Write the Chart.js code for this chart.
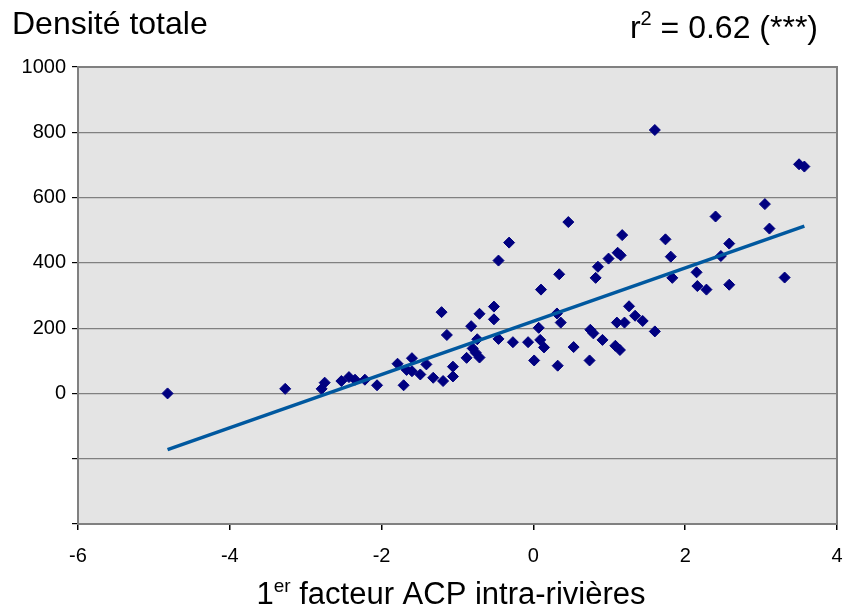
<!DOCTYPE html>
<html>
<head>
<meta charset="utf-8">
<script src="https://cdn.jsdelivr.net/npm/chart.js@4/dist/chart.umd.min.js"></script>
<style>
  html, body { margin: 0; padding: 0; background: #ffffff; }
  #wrap { width: 844px; height: 610px; }
</style>
</head>
<body>
<div id="wrap"><canvas id="c" width="844" height="610"></canvas></div>
<script>
// First factor of the within-river PCA (x) and total density (y), one value per site
const acpFactor1 = [
  -4.82, -3.27, -2.79, -2.75, -2.53, -2.43, -2.35, -2.22, -2.06, -1.79,
  -1.71, -1.60, -1.67, -1.60, -1.49, -1.41, -1.32, -1.19, -1.06, -1.06,
  -1.21, -1.14, -0.88, -0.80, -0.76, -0.71, -0.74, -0.82, -0.71, -0.52,
  -0.52, -0.46, -0.27, -0.07, 0.07, 0.09, 0.14, 0.01, 0.32, 0.31,
  0.36, 0.53, 0.74, 0.75, 0.79, 0.91, 1.08, 1.14, 1.10, 1.20,
  1.26, 1.34, 1.44, 1.60, 0.10, -0.46, -0.32, 0.34, 0.46, 0.82,
  0.85, 0.99, 1.11, 1.15, 1.17, 1.74, 1.81, 1.83, 2.15, 2.16,
  2.28, 2.40, 2.47, 2.58, 2.58, 3.05, 3.11, 3.31, 3.50, 3.57,
  1.60
];
const densiteTotale = [
  0, 14, 14, 33, 38, 50, 42, 42, 25, 91,
  25, 108, 72, 68, 58, 89, 48, 38, 82, 52,
  249, 179, 109, 138, 125, 110, 166, 206, 244, 266,
  227, 167, 157, 157, 201, 164, 141, 101, 85, 245,
  217, 142, 101, 195, 184, 164, 146, 133, 217, 217,
  267, 238, 222, 190, 318, 407, 462, 365, 525, 354,
  388, 413, 431, 423, 485, 472, 419, 354, 371, 329,
  318, 542, 421, 459, 333, 580, 505, 355, 702, 695,
  807
];

// Axis ticks
const xTickValues = [-6, -4, -2, 0, 2, 4];
const yTickLabels = [0, 200, 400, 600, 800, 1000];

// Linear trend (intercept, slope) and its fit statistic
const trendIntercept = 221;
const trendSlope = 81.6;
const r2Text = ['r', '2', ' = 0.62 (***)'];

const titleText = 'Densité totale';
const xTitleParts = ['1', 'er', ' facteur ACP intra-rivières'];

const FONT = '"Liberation Sans", Arial, sans-serif';

const points = acpFactor1.map((x, i) => ({ x: x, y: densiteTotale[i] }));
const xMin = Math.min(...acpFactor1);
const xMax = Math.max(...acpFactor1);
const trendPoints = [xMin, xMax].map(x => ({ x: x, y: trendIntercept + trendSlope * x }));

const plotBackground = {
  id: 'plotBackground',
  beforeDraw(chart) {
    const { ctx, chartArea: a } = chart;
    ctx.save();
    ctx.fillStyle = '#e4e4e4';
    ctx.fillRect(a.left, a.top, a.right - a.left, a.bottom - a.top);
    ctx.restore();
  },
  beforeDatasetsDraw(chart) {
    const { ctx, chartArea: a } = chart;
    ctx.save();
    ctx.strokeStyle = '#808080';
    ctx.lineWidth = 2;
    ctx.strokeRect(a.left, a.top, a.right - a.left, a.bottom - a.top);
    ctx.restore();
  }
};

// Draws a run of [text, font, baselineY] pieces side by side starting at x
function drawRun(ctx, pieces, startX) {
  let x = startX;
  for (const [txt, font, y] of pieces) {
    ctx.font = font;
    ctx.fillText(txt, x, y);
    x += ctx.measureText(txt).width;
  }
}
function runWidth(ctx, pieces) {
  let w = 0;
  for (const [txt, font] of pieces) { ctx.font = font; w += ctx.measureText(txt).width; }
  return w;
}

const textLayer = {
  id: 'textLayer',
  afterDraw(chart) {
    const { ctx } = chart;
    ctx.save();
    ctx.fillStyle = '#000000';
    ctx.textAlign = 'left';
    ctx.textBaseline = 'alphabetic';

    // Title, top left
    ctx.font = '32px ' + FONT;
    ctx.fillText(titleText, 12, 34);

    // r² statement, top right
    const r2Run = [
      [r2Text[0], '32px ' + FONT, 38],
      [r2Text[1], '20px ' + FONT, 25],
      [r2Text[2], '32px ' + FONT, 38]
    ];
    drawRun(ctx, r2Run, 818 - runWidth(ctx, r2Run));

    // X axis title with superscript
    const xRun = [
      [xTitleParts[0], '31px ' + FONT, 604],
      [xTitleParts[1], '19px ' + FONT, 592],
      [xTitleParts[2], '31px ' + FONT, 604]
    ];
    drawRun(ctx, xRun, 451 - runWidth(ctx, xRun) / 2);
    ctx.restore();
  }
};

new Chart(document.getElementById('c'), {
  type: 'scatter',
  data: {
    datasets: [
      {
        type: 'line',
        data: trendPoints,
        borderColor: '#00589f',
        borderWidth: 3.5,
        pointRadius: 0,
        fill: false,
        order: 0
      },
      {
        data: points,
        pointStyle: 'rectRot',
        pointRadius: 5.5,
        pointHoverRadius: 5.5,
        backgroundColor: '#000080',
        borderColor: '#000080',
        borderWidth: 1,
        order: 1
      }
    ]
  },
  options: {
    responsive: false,
    animation: false,
    events: [],
    layout: { padding: { top: 67, right: 7, left: 0, bottom: 0 } },
    plugins: { legend: { display: false }, tooltip: { enabled: false }, title: { display: false } },
    scales: {
      x: {
        type: 'linear',
        min: -6,
        max: 4,
        afterBuildTicks(scale) { scale.ticks = xTickValues.map(v => ({ value: v })); },
        afterFit(scale) {
          scale.height = 86;
          scale.paddingLeft = 0;
          scale.paddingRight = 0;
        },
        border: { display: false },
        grid: { drawOnChartArea: false, drawTicks: true, tickLength: 6, tickColor: '#000000', lineWidth: 1.5 },
        ticks: { color: '#000000', padding: 14, font: { family: FONT, size: 20 }, maxRotation: 0 }
      },
      y: {
        type: 'linear',
        min: -400,
        max: 1000,
        ticks: {
          stepSize: 200,
          color: '#000000',
          padding: 6,
          font: { family: FONT, size: 20 },
          callback: v => (yTickLabels.includes(v) ? String(v) : '')
        },
        afterFit(scale) {
          scale.width = 78;
          scale.paddingTop = 0;
          scale.paddingBottom = 0;
        },
        border: { display: false },
        grid: { color: '#808080', lineWidth: 1.2, drawTicks: true, tickLength: 6, tickColor: '#000000' }
      }
    }
  },
  plugins: [plotBackground, textLayer]
});
</script>
</body>
</html>
